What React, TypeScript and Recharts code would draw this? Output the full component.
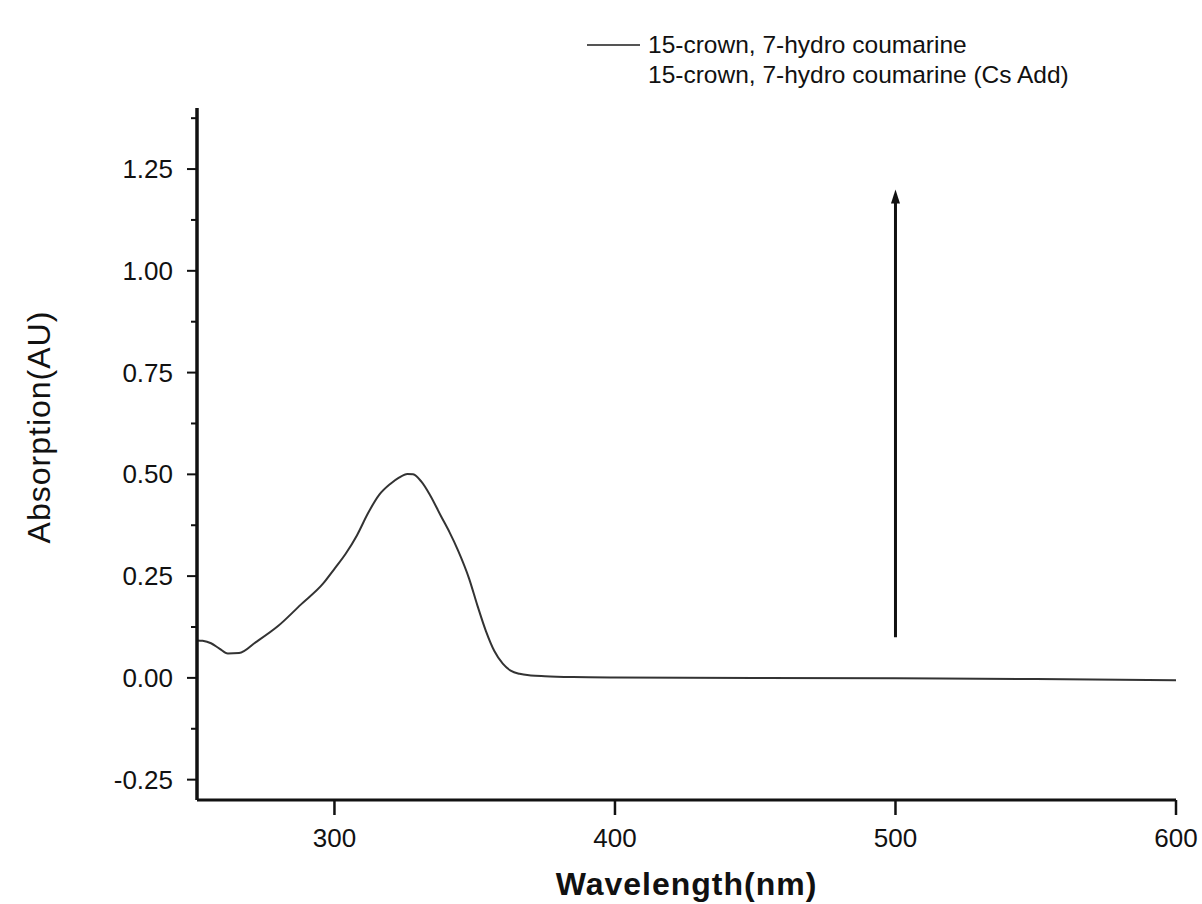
import React from "react";
import { LineChart, Line, XAxis, YAxis, Legend, ReferenceLine } from "recharts";

const wavelengths = [251, 253, 256, 259, 262, 266, 272, 280, 288, 296, 300, 304, 308, 312, 316, 320, 323, 326, 328, 331, 334, 338, 341, 344, 348, 351, 354, 357, 360, 363, 366, 370, 375, 385, 400, 450, 500, 550, 600];
const absorbance = [0.092, 0.091, 0.085, 0.072, 0.060, 0.061, 0.088, 0.128, 0.180, 0.232, 0.268, 0.305, 0.350, 0.405, 0.450, 0.477, 0.492, 0.501, 0.500, 0.482, 0.450, 0.397, 0.358, 0.314, 0.244, 0.177, 0.115, 0.066, 0.035, 0.017, 0.010, 0.006, 0.004, 0.002, 0.001, 0.000, -0.001, -0.003, -0.006];

const seriesNames = ["15-crown, 7-hydro coumarine", "15-crown, 7-hydro coumarine (Cs Add)"];

const xTicks = [300, 400, 500, 600];
const yTicks = [-0.25, -0.125, 0, 0.125, 0.25, 0.375, 0.5, 0.625, 0.75, 0.875, 1.0, 1.125, 1.25, 1.375];

const arrowX = [500, 500];
const arrowY = [0.1, 1.2];

const data = wavelengths.map((w, i) => ({ wavelength: w, a: absorbance[i] }));

const FONT = "'Liberation Sans', Arial, sans-serif";
const INK = "#111";

const isMajor = (v: number) => Math.abs(v / 0.25 - Math.round(v / 0.25)) < 1e-6;

const YTick = (props: any) => {
  const { x, y, payload } = props;
  const v = payload.value as number;
  const major = isMajor(v);
  return (
    <g>
      <line x1={x} x2={x - (major ? 10 : 6)} y1={y} y2={y} stroke={INK} strokeWidth={2} />
      {major && (
        <text x={x - 24} y={y} textAnchor="end" dominantBaseline="central" fontSize={26} fontFamily={FONT} fill={INK}>
          {v.toFixed(2)}
        </text>
      )}
    </g>
  );
};

const XTick = (props: any) => {
  const { x, y, payload } = props;
  return (
    <g>
      <line x1={x} x2={x} y1={y} y2={y + 15} stroke={INK} strokeWidth={2.5} />
      <text x={x} y={y + 38} textAnchor="middle" dominantBaseline="central" fontSize={26} fontFamily={FONT} fill={INK}>
        {payload.value}
      </text>
    </g>
  );
};

const ArrowShape = (p: any) => {
  const { x1, y1, x2, y2 } = p;
  const top = Math.min(y1, y2);
  const bottom = Math.max(y1, y2);
  const x = x1;
  return (
    <g>
      <line x1={x} x2={x2} y1={bottom} y2={top + 8} stroke="#111" strokeWidth={3} />
      <polygon points={`${x},${top} ${x - 4.5},${top + 14} ${x + 4.5},${top + 14}`} fill="#111" />
    </g>
  );
};

const LegendContent = () => (
  <div style={{ fontFamily: FONT, fontSize: 24.5, color: INK, lineHeight: "30px", whiteSpace: "nowrap" }}>
    {seriesNames.map((n, i) => (
      <div key={n} style={{ display: "flex", alignItems: "center", height: 30 }}>
        <svg width={61} height={30} style={{ flex: "none" }}>
          {i === 0 && <line x1={0} x2={53} y1={15} y2={15} stroke="#555" strokeWidth={2} />}
        </svg>
        <span>{n}</span>
      </div>
    ))}
  </div>
);

export default function App() {
  return (
    <div style={{ position: "absolute", left: 0, top: 0, width: 1202, height: 904, background: "#fff" }}>
      <LineChart width={1202} height={904} data={data} margin={{ top: 108, right: 26, bottom: 44, left: 117 }}>
        <XAxis
          dataKey="wavelength"
          type="number"
          domain={[251, 600]}
          ticks={xTicks}
          interval={0}
          allowDataOverflow
          height={60}
          tickSize={0}
          tickMargin={0}
          tickLine={false}
          tick={<XTick />}
          axisLine={{ stroke: INK, strokeWidth: 3 }}
          label={{
            content: (lp: any) => {
              const vb = lp.viewBox || {};
              return (
                <text
                  x={vb.x + vb.width / 2}
                  y={895}
                  textAnchor="middle"
                  fontSize={32}
                  fontWeight="bold"
                  letterSpacing={1}
                  fontFamily={FONT}
                  fill={INK}
                >
                  Wavelength(nm)
                </text>
              );
            },
          }}
        />
        <YAxis
          type="number"
          domain={[-0.3, 1.4]}
          ticks={yTicks}
          interval={0}
          allowDataOverflow
          width={80}
          tickSize={0}
          tickMargin={0}
          tickLine={false}
          tick={<YTick />}
          axisLine={{ stroke: INK, strokeWidth: 3.5 }}
          label={{
            content: (lp: any) => {
              const vb = lp.viewBox || {};
              const cx = 50;
              const cy = vb.y + vb.height / 2 - 27;
              return (
                <text
                  x={cx}
                  y={cy}
                  transform={`rotate(-90 ${cx} ${cy})`}
                  textAnchor="middle"
                  fontSize={32}
                  letterSpacing={1}
                  fontFamily={FONT}
                  fill={INK}
                >
                  Absorption(AU)
                </text>
              );
            },
          }}
        />
        <Legend
          layout="horizontal"
          verticalAlign="middle"
          align="center"
          wrapperStyle={{ position: "absolute", top: 30, left: 587, width: 610 }}
          content={<LegendContent />}
        />
        <ReferenceLine
          segment={[
            { x: arrowX[0], y: arrowY[0] },
            { x: arrowX[1], y: arrowY[1] },
          ]}
          stroke="#111"
          shape={ArrowShape}
        />
        <Line
          type="monotone"
          dataKey="a"
          name={seriesNames[0]}
          stroke="#333"
          strokeWidth={2}
          dot={false}
          isAnimationActive={false}
        />
      </LineChart>
    </div>
  );
}
